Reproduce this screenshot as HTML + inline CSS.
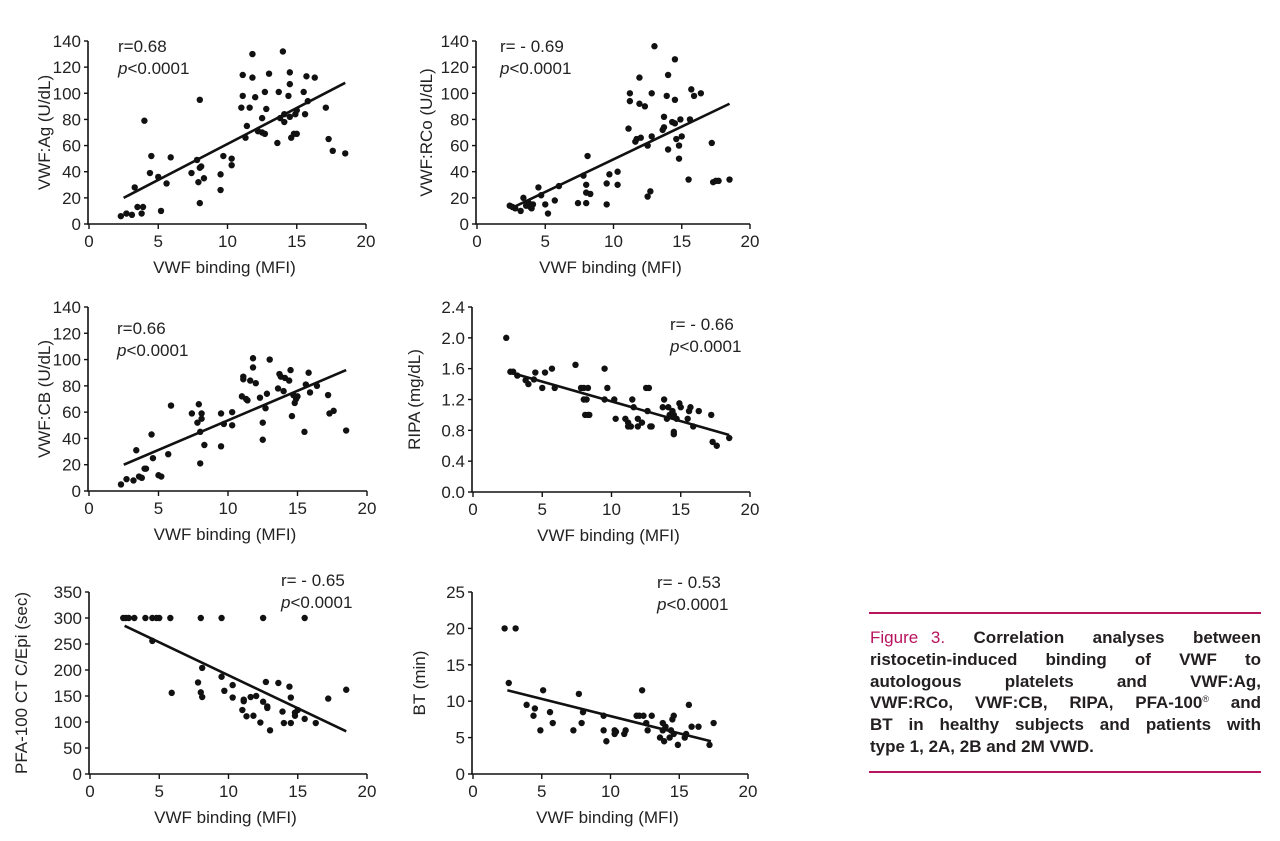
<!DOCTYPE html>
<html><head><meta charset="utf-8"><style>
body{margin:0;background:#fff;width:1280px;height:841px;overflow:hidden;position:relative;font-family:"Liberation Sans",sans-serif}
svg{position:absolute;left:0;top:0}
.cap{position:absolute;left:870px;width:391px;font-size:17px;font-weight:bold;color:#231f20;line-height:21.8px}
.cap div{white-space:nowrap;display:flex;justify-content:space-between;height:21.8px}
.cap div.last{display:block}
.fig{color:#b8135f;font-weight:normal;word-spacing:8px}
.rule{position:absolute;left:869px;width:392px;height:2px;background:#b8135f}
sup{font-size:9px;font-weight:normal;line-height:0;vertical-align:6px}
</style></head><body>
<svg id="chart" width="1280" height="841" viewBox="0 0 1280 841"></svg>
<div class="rule" style="top:612px"></div>
<div class="cap" style="top:627px">
<div><span class="fig">Figure 3.</span><span>Correlation</span><span>analyses</span><span>between</span></div>
<div><span>ristocetin-induced</span><span>binding</span><span>of</span><span>VWF</span><span>to</span></div>
<div><span>autologous</span><span>platelets</span><span>and</span><span>VWF:Ag,</span></div>
<div><span>VWF:RCo,</span><span>VWF:CB,</span><span>RIPA,</span><span>PFA-100<sup>®</sup></span><span>and</span></div>
<div><span>BT</span><span>in</span><span>healthy</span><span>subjects</span><span>and</span><span>patients</span><span>with</span></div>
<div class="last">type 1, 2A, 2B and 2M VWD.</div>
</div>
<div class="rule" style="top:771px"></div>
<script>
const xTicks=[0,5,10,15,20];
const agX=[2.3,2.7,3.1,3.3,3.5,3.8,3.9,4.0,4.4,4.5,5.0,5.2,5.6,5.9,7.4,7.8,7.9,8.0,8.0,8.0,8.1,8.3,9.5,9.5,9.7,10.3,10.3,11.0,11.1,11.1,11.3,11.4,11.6,11.8,11.8,12.0,12.2,12.5,12.5,12.7,12.7,12.8,13.0,13.6,13.7,13.8,14.0,14.1,14.1,14.4,14.5,14.5,14.6,14.8,14.9,15.0,15.0,15.5,15.6,15.7,15.8,16.3,17.1,17.3,17.6,18.5,14.5];
const agY=[6,8,7,28,13,8,13,79,39,52,36,10,31,51,39,49,32,95,16,43,44,35,38,26,52,50,45,89,114,98,66,75,89,130,112,97,71,70,81,101,69,88,115,62,101,81,132,84,78,98,107,116,66,69,84,87,69,101,84,113,94,112,89,65,56,54,82];
const rcoX=[2.4,2.6,2.8,3.2,3.4,3.6,3.8,3.9,4.0,4.1,4.5,4.7,5.0,5.2,5.7,6.0,7.4,7.8,8.0,8.1,8.0,8.0,8.3,9.5,9.5,9.7,10.3,10.3,11.1,11.2,11.2,11.6,11.7,11.9,11.9,12.0,12.3,12.5,12.5,12.7,12.8,12.8,13.0,13.6,13.7,13.7,13.9,14.0,14.0,14.3,14.5,14.5,14.5,14.6,14.8,14.8,14.9,15.0,15.5,15.6,15.7,15.9,16.4,17.2,17.3,17.5,17.7,18.5];
const rcoY=[14,13,12,10,20,14,16,13,12,15,28,22,15,8,18,29,16,37,30,52,24,16,23,31,15,38,40,30,73,100,94,63,65,112,92,66,90,60,21,25,100,67,136,72,74,82,98,114,57,78,77,95,126,65,60,50,80,67,34,80,103,98,100,62,32,33,33,34];
const cbX=[2.3,2.7,3.2,3.4,3.6,3.8,4.0,4.1,4.5,4.6,5.0,5.2,5.7,5.9,7.4,7.8,7.9,8.0,8.0,8.1,8.1,8.3,9.5,9.5,9.7,10.3,10.3,11.0,11.1,11.1,11.3,11.4,11.6,11.8,11.8,12.0,12.3,12.5,12.5,12.7,12.8,13.0,13.6,13.7,13.8,14.0,14.1,14.4,14.5,14.6,14.7,14.8,14.9,15.0,15.5,15.6,15.8,15.9,16.4,17.2,17.3,17.6,18.5];
const cbY=[5,9,8,31,11,10,17,17,43,25,12,11,28,65,59,52,66,21,45,55,59,35,59,34,51,60,50,72,87,85,70,69,84,101,94,82,71,52,39,63,74,100,78,89,87,76,86,84,92,57,73,67,70,72,45,81,90,75,80,73,59,61,46];
const ripaX=[2.4,2.7,2.9,3.2,3.8,4.0,4.5,4.4,5.0,5.2,5.7,5.9,7.4,7.8,8.0,8.0,8.1,8.2,8.3,8.3,8.4,9.5,9.5,9.7,10.2,10.3,11.0,11.2,11.2,11.4,11.5,11.6,11.9,11.9,12.2,12.5,12.6,12.7,12.8,12.9,13.7,13.8,14.0,14.1,14.2,14.5,14.5,14.4,14.5,14.7,14.9,15.0,15.5,15.6,15.7,15.9,16.3,17.2,17.3,17.6,18.5];
const ripaY=[2.0,1.56,1.56,1.51,1.45,1.4,1.55,1.46,1.35,1.55,1.6,1.35,1.65,1.35,1.2,1.35,1.0,1.2,1.0,1.35,1.0,1.6,1.2,1.35,1.2,0.95,0.95,0.85,0.9,0.85,1.2,1.1,0.85,0.95,0.9,1.35,1.05,1.35,0.85,0.85,1.1,1.2,0.95,1.1,1.0,0.78,0.75,1.05,1.0,0.95,1.15,1.1,0.95,1.05,1.1,0.85,1.05,1.0,0.65,0.6,0.7];
const pfaX=[2.4,2.6,2.8,3.2,4.0,4.5,4.8,5.0,5.8,8.0,9.5,12.5,15.5,4.5,5.9,7.8,8.0,8.1,8.1,9.5,9.7,10.3,10.3,11.0,11.1,11.1,11.3,11.6,11.8,12.0,12.3,12.5,12.7,12.8,12.8,13.0,13.6,13.9,14.0,14.4,14.5,14.5,14.8,14.8,15.0,15.5,16.3,17.2,18.5];
const pfaY=[300,300,300,300,300,300,300,300,300,300,300,300,300,256,156,176,157,148,204,187,160,171,147,123,140,143,111,148,112,150,99,139,177,130,127,84,175,120,98,168,147,98,118,112,123,106,98,145,162];
const btX=[2.3,3.1,2.6,3.9,4.4,4.5,4.9,5.1,5.6,5.8,7.3,7.7,7.9,8.0,9.5,9.5,9.7,10.3,10.3,10.4,11.0,11.1,11.9,12.1,12.3,12.4,12.6,12.7,13.0,13.6,13.8,13.8,13.9,14.0,14.3,14.4,14.5,14.6,14.6,14.9,15.4,15.5,15.7,15.9,16.4,17.2,17.5];
const btY=[20,20,12.5,9.5,8,9,6,11.5,8.5,7,6,11,7,8.5,8,6,4.5,6,5.5,5.8,5.5,6,8,8,11.5,8,7,6,8,5,7,6,4.5,6.5,5,6,7.5,8,5.5,4,5,5.5,9.5,6.5,6.5,4,7];
const agFitX=[2.5,18.5],agFitY=[20,108];
const rcoFitX=[2.5,18.5],rcoFitY=[12,92];
const cbFitX=[2.5,18.5],cbFitY=[20,92];
const ripaFitX=[2.5,18.5],ripaFitY=[1.56,0.74];
const pfaFitX=[2.5,18.5],pfaFitY=[285,82];
const btFitX=[2.5,17.3],btFitY=[11.5,4.5];
const agTicks=[0,20,40,60,80,100,120,140];
const ripaTicks=[0.0,0.4,0.8,1.2,1.6,2.0,2.4];
const pfaTicks=[0,50,100,150,200,250,300,350];
const btTicks=[0,5,10,15,20,25];

const svg=document.getElementById('chart');
const NS='http://www.w3.org/2000/svg';
function mk(tag,attrs,parent){const e=document.createElementNS(NS,tag);for(const k in attrs)e.setAttribute(k,attrs[k]);parent.appendChild(e);return e;}
function panel(name,o){
  const g=mk('g',{},svg);
  
  
  const ymax=o.yt[o.yt.length-1];
  const sx=v=>o.x0+(o.x1-o.x0)*v/20;
  const sy=v=>o.y0-(o.y0-o.y1)*v/ymax;
  const ax=mk('path',{d:`M${o.x0-1} ${o.y1} V${o.y0} H${o.x1}`,stroke:'#111','stroke-width':1.6,fill:'none'},g);
  
  
  o.yt.forEach((t,i)=>{
    mk('line',{x1:o.x0-5,x2:o.x0-1,y1:sy(t),y2:sy(t),stroke:'#111','stroke-width':1.4},g);
    const tx=mk('text',{x:o.x0-8,y:sy(t)+6,'text-anchor':'end','font-size':17,fill:'#222'},g);
    tx.textContent=o.fmt?o.fmt(t):t;
    
    
  });
  xTicks.forEach(t=>{
    mk('line',{x1:sx(t),x2:sx(t),y1:o.y0,y2:o.y0+5,stroke:'#111','stroke-width':1.4},g);
    const tx=mk('text',{x:sx(t),y:o.y0+23,'text-anchor':'middle','font-size':17,fill:'#222'},g);
    tx.textContent=t;
    
    
  });
  const xt=mk('text',{x:(o.x0+o.x1)/2-3,y:o.y0+49,'text-anchor':'middle','font-size':17,fill:'#222'},g);
  xt.textContent='VWF binding (MFI)';
  
  
  const yc=(o.y0+o.y1)/2;
  const yt=mk('text',{x:o.ytx,y:yc,'text-anchor':'middle','font-size':17,fill:'#222',transform:`rotate(-90 ${o.ytx} ${yc})`},g);
  yt.textContent=o.ytitle;
  
  
  const r1=mk('text',{x:o.ax,y:o.ay,'font-size':17,fill:'#222'},g);
  r1.textContent=o.r;
  
  
  const r2=mk('text',{x:o.ax,y:o.ay+22,'font-size':17,fill:'#222'},g);
  r2.innerHTML='<tspan font-style="italic">p</tspan>&lt;0.0001';
  
  
  o.px.forEach((v,i)=>{
    const c=mk('circle',{cx:sx(v),cy:sy(o.py[i]),r:3.2,fill:'#111'},g);
    
    
  });
  const l=mk('line',{x1:sx(o.fx[0]),y1:sy(o.fy[0]),x2:sx(o.fx[1]),y2:sy(o.fy[1]),stroke:'#111','stroke-width':2.6},g);
  
  
}
panel('vwf-ag',{x0:89,x1:366,y0:224,y1:41,yt:agTicks,px:agX,py:agY,fx:agFitX,fy:agFitY,ytitle:'VWF:Ag (U/dL)',ytx:50,r:'r=0.68',ax:118,ay:52});
panel('vwf-rco',{x0:477,x1:750,y0:224,y1:41,yt:agTicks,px:rcoX,py:rcoY,fx:rcoFitX,fy:rcoFitY,ytitle:'VWF:RCo (U/dL)',ytx:432,r:'r= - 0.69',ax:500,ay:52});
panel('vwf-cb',{x0:89,x1:367,y0:491,y1:307,yt:agTicks,px:cbX,py:cbY,fx:cbFitX,fy:cbFitY,ytitle:'VWF:CB (U/dL)',ytx:50,r:'r=0.66',ax:117,ay:334});
panel('ripa',{x0:473,x1:750,y0:492,y1:307,yt:ripaTicks,px:ripaX,py:ripaY,fx:ripaFitX,fy:ripaFitY,ytitle:'RIPA (mg/dL)',ytx:420,r:'r= - 0.66',ax:670,ay:330,fmt:t=>t.toFixed(1)});
panel('pfa-100',{x0:90,x1:367,y0:774,y1:592,yt:pfaTicks,px:pfaX,py:pfaY,fx:pfaFitX,fy:pfaFitY,ytitle:'PFA-100 CT C/Epi (sec)',ytx:27,r:'r= - 0.65',ax:281,ay:586});
panel('bt',{x0:473,x1:748,y0:774,y1:592,yt:btTicks,px:btX,py:btY,fx:btFitX,fy:btFitY,ytitle:'BT (min)',ytx:425,r:'r= - 0.53',ax:657,ay:588});
</script>
</body></html>
